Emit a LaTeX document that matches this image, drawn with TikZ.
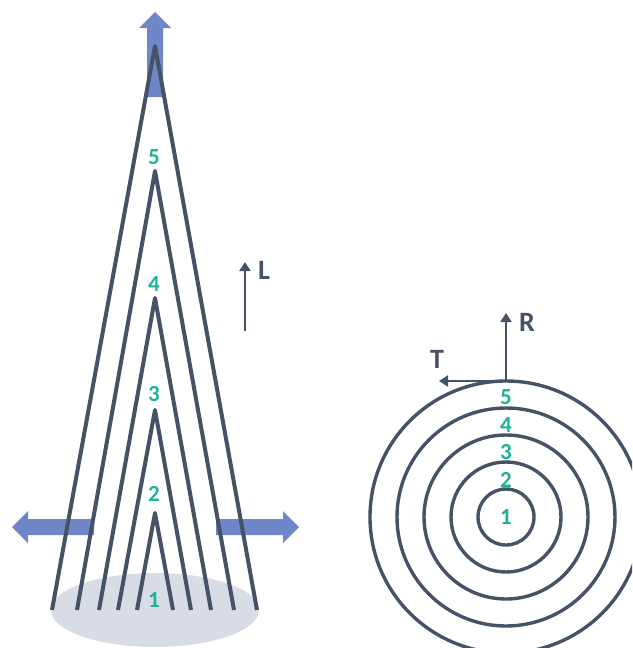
\documentclass[tikz,border=0pt]{standalone}
\usepackage{fontspec}
\setmainfont{Carlito}
\usetikzlibrary{arrows.meta}
\definecolor{ink}{HTML}{465266}
\definecolor{flow}{HTML}{6F87C8}
\definecolor{base}{HTML}{D8DDE5}
\definecolor{num}{HTML}{1EB394}
\tikzset{
  fibre/.style={draw=ink, line width=4pt, line join=round},
  ring/.style={draw=ink, line width=3.4pt},
  bigarrow/.style={fill=flow, draw=none},
  axis/.style={draw=ink, line width=2.2pt, -{Triangle[length=9pt,width=11pt]}},
  numlbl/.style={text=num, font=\bfseries\fontsize{23}{23}\selectfont, inner sep=0pt},
  axlbl/.style={text=ink, font=\bfseries\fontsize{28}{28}\selectfont, inner sep=0pt},
}
\begin{document}
\begin{tikzpicture}[x=1pt,y=-1pt]
\useasboundingbox (0,0) rectangle (632,648);
\clip (0,0) rectangle (632,648);
% base ellipse
\fill[base] (155,610) ellipse [x radius=104, y radius=37];
% big arrows
\path[bigarrow] (147,97) -- (147,28) -- (139,28) -- (155,12) -- (171,28) -- (163,28) -- (163,97) -- cycle;
\path[bigarrow] (94,519) -- (28,519) -- (28,511) -- (12,527) -- (28,543) -- (28,535) -- (94,535) -- cycle;
\path[bigarrow] (216,519) -- (283,519) -- (283,511) -- (299,527) -- (283,543) -- (283,535) -- (216,535) -- cycle;
% nested fibres
\coordinate (a5) at (155,46);
\coordinate (a4) at (155,171);
\coordinate (a3) at (155,298);
\coordinate (a2) at (155,410);
\coordinate (a1) at (155,513);
\draw[fibre] (52,610) -- (a5) -- (257,610);
\draw[fibre] (77,610) -- (a4) -- (234,610);
\draw[fibre] (99,610) -- (a3) -- (211,610);
\draw[fibre] (118,610) -- (a2) -- (191,610);
\draw[fibre] (137,610) -- (a1) -- (173,610);
% cone labels
\node[numlbl] (c5) at (154,157) {5};
\node[numlbl] (c4) at (154,284) {4};
\node[numlbl] (c3) at (154,394) {3};
\node[numlbl] (c2) at (154,494) {2};
\node[numlbl] (c1) at (154,600) {1};
% L axis
\coordinate (l0) at (245,331);
\coordinate (l1) at (245,262);
\draw[axis] (l0) -- (l1);
\node[axlbl] (L) at (264,270) {L};
% rings
\coordinate (ctr) at (506,517);
\draw[ring] (ctr) circle [radius=28];
\draw[ring] (ctr) circle [radius=55];
\draw[ring] (ctr) circle [radius=82];
\draw[ring] (ctr) circle [radius=109];
\draw[ring] (ctr) circle [radius=136];
\node[numlbl] (r5) at (506,397) {5};
\node[numlbl] (r4) at (506,425) {4};
\node[numlbl] (r3) at (506,452) {3};
\node[numlbl] (r2) at (506,480) {2};
\node[numlbl] (r1) at (506,517) {1};
% R and T axes
\coordinate (o) at (506,381);
\coordinate (rt) at (506,313);
\coordinate (tt) at (439,381);
\draw[axis] (o) -- (rt);
\draw[axis] (o) -- (tt);
\node[axlbl] (R) at (527,322) {R};
\node[axlbl] (T) at (437,359) {T};
\end{tikzpicture}
\end{document}
